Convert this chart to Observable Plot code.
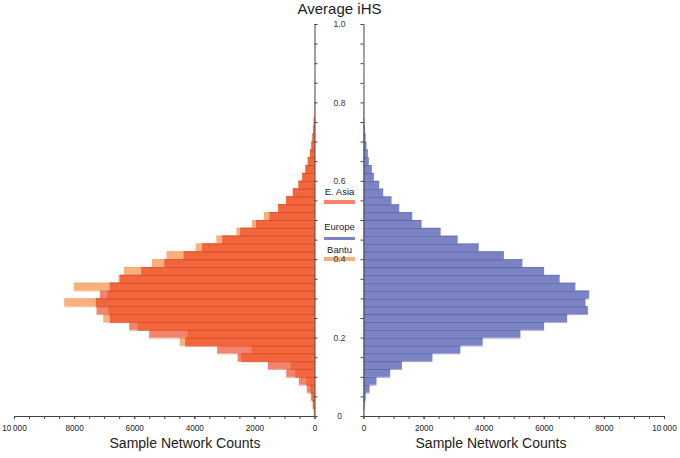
<!DOCTYPE html>
<html>
<head>
<meta charset="utf-8">
<script src="https://cdn.jsdelivr.net/npm/d3@7"></script>
<script src="https://cdn.jsdelivr.net/npm/@observablehq/plot@0.6"></script>
<style>
  body { margin: 0; background: #fff; font-family: "Liberation Sans", Arial, Helvetica, sans-serif; }
  #wrap { position: relative; width: 680px; height: 458px; background: #fff; overflow: hidden; }
  #chart { position: absolute; left: 0; top: 0; z-index: 1; }
  .lbl { position: absolute; color: #222; white-space: nowrap; transform: translateX(-50%); line-height: 1.15; }
  .sw { position: absolute; z-index: 0; }
</style>
</head>
<body>
<div id="wrap"><div id="chart"></div></div>
<script>
// ---- data ----
const binStart = [0, 0.02, 0.04, 0.06, 0.08, 0.10, 0.12, 0.14, 0.16, 0.18,
                  0.20, 0.22, 0.24, 0.26, 0.28, 0.30, 0.32, 0.34, 0.36, 0.38,
                  0.40, 0.42, 0.44, 0.46, 0.48, 0.50, 0.52, 0.54, 0.56, 0.58,
                  0.60, 0.62, 0.64, 0.66, 0.68, 0.70, 0.72, 0.74, 0.76, 0.78];
const europe   = [20, 45, 75, 200, 433, 889, 1278, 2295, 3225, 3967,
                  5222, 6011, 6778, 7467, 7389, 7511, 7050, 6528, 6011, 5289,
                  4672, 3833, 3133, 2567, 1933, 1622, 1189, 933, 656, 522,
                  344, 278, 178, 144, 100, 70, 50, 30, 15, 8];
const eastAsia = [20, 55, 120, 255, 520, 941, 1550, 2558, 3240, 4300,
                  5504, 6168, 6810, 7252, 7275, 7142, 6810, 6478, 5765, 4993,
                  4352, 3737, 3067, 2469, 1945, 1495, 1207, 941, 720, 531,
                  410, 299, 222, 150, 100, 70, 40, 25, 10, 5];
const bantu    = [20, 55, 77, 144, 277, 642, 797, 2436, 2098, 4485,
                  4224, 5890, 7031, 6850, 8328, 6899, 8006, 6520, 6340, 5410,
                  4927, 3953, 3266, 2596, 2082, 1683, 1207, 941, 720, 531,
                  410, 299, 222, 150, 100, 70, 40, 25, 10, 5];
const yTickLabels = [0, 0.2, 0.4, 0.6, 0.8, 1.0];
const yTicks = [0, 0.05, 0.1, 0.15, 0.2, 0.25, 0.3, 0.35, 0.4, 0.45, 0.5,
                0.55, 0.6, 0.65, 0.7, 0.75, 0.8, 0.85, 0.9, 0.95, 1.0];
const xTickLabels = [0, 2000, 4000, 6000, 8000, 10000];
const xTicks = [0, 500, 1000, 1500, 2000, 2500, 3000, 3500, 4000, 4500, 5000,
                5500, 6000, 6500, 7000, 7500, 8000, 8500, 9000, 9500, 10000];
const seriesNames = ["E. Asia", "Europe", "Bantu"];
const titleText = "Average iHS";
const xTitle = "Sample Network Counts";

// ---- styling ----
const C = {
  bantu: "#f9b07a", bantuEdge: "#ee9f68",
  easia: "#f3836a", easiaEdge: "#e56e54",
  over: "#f1663c", overEdge: "#dc4c24",
  eu: "#7b83c5", euEdge: "#5d65aa",
  axis: "#444"
};
const G = 815;     // half gap between the two panels (count units)
const TK = 100;    // y tick length (count units)
const L = v => -(G + v);
const R = v => G + v;
const fmtCount = v => String(v).length > 4 ? String(v).replace(/(\d)(?=(\d{3})+$)/g, "$1\u2009") : String(v);
const binWidth = 0.02;
const rows = binStart.map((b, i) => ({
  y1: b, y2: b + binWidth,
  eu: europe[i], ea: eastAsia[i], ba: bantu[i], ov: Math.min(eastAsia[i], bantu[i])
}));
const xMax = d3.max(xTicks);
const yMin = d3.min(yTicks), yMax = d3.max(yTicks);

function bars(x1, x2, fill, edge) {
  return [
    Plot.rect(rows, {x1, x2, y1: "y1", y2: "y2", fill}),
    Plot.ruleY(rows, {y: "y1", x1, x2, stroke: edge, strokeWidth: 0.6}),
    Plot.ruleY(rows, {y: "y2", x1, x2, stroke: edge, strokeWidth: 0.6})
  ];
}

const chart = Plot.plot({
  width: 680, height: 458,
  marginTop: 24, marginBottom: 42, marginLeft: 14, marginRight: 16,
  x: {domain: [L(xMax), R(xMax)]},
  y: {domain: [yMin, yMax], axis: null},
  style: {background: "transparent", fontFamily: "'Liberation Sans', Arial, Helvetica, sans-serif", overflow: "visible"},
  marks: [
    ...bars(-G, d => L(d.ba), C.bantu, C.bantuEdge),
    ...bars(-G, d => L(d.ea), C.easia, C.easiaEdge),
    ...bars(-G, d => L(d.ov), C.over, C.overEdge),
    ...bars(G, d => R(d.eu), C.eu, C.euEdge),
    // vertical axes
    Plot.ruleX([-G, G], {y1: yMin, y2: yMax, stroke: C.axis, strokeWidth: 1}),
    Plot.ruleY(yTicks, {y: d => d, x1: -G, x2: -G + TK, stroke: C.axis, strokeWidth: 1}),
    Plot.ruleY(yTicks, {y: d => d, x1: G - TK, x2: G, stroke: C.axis, strokeWidth: 1}),
    Plot.text(yTickLabels, {x: 0, y: d => d, text: d => d === 0 ? "0" : d.toFixed(1), fontSize: 8.5, fill: "#333"}),
    // horizontal axes
    Plot.ruleY([0], {x1: L(xMax), x2: -G, stroke: C.axis, strokeWidth: 1}),
    Plot.ruleY([0], {x1: G, x2: R(xMax), stroke: C.axis, strokeWidth: 1}),
    Plot.axisX([...xTicks.map(L), ...xTicks.map(R)], {anchor: "bottom", tickSize: 3, tickFormat: () => "", label: null, stroke: C.axis}),
    Plot.axisX([...xTickLabels.map(L), ...xTickLabels.map(R)], {
      anchor: "bottom", tickSize: 3, tickPadding: 6, label: null, stroke: C.axis, fill: "#222", fontSize: 8.2,
      tickFormat: d => fmtCount(Math.round(Math.abs(d) - G))
    })
  ]
});
document.getElementById("chart").appendChild(chart);

// ---- titles & legend ----
const wrap = document.getElementById("wrap");
function label(text, cx, top, size) {
  const el = document.createElement("div");
  el.className = "lbl";
  el.textContent = text;
  el.style.left = cx + "px";
  el.style.top = top + "px";
  el.style.fontSize = size + "px";
  el.style.zIndex = 2;
  wrap.appendChild(el);
  return el;
}
label(titleText, 339.5, 0, 15);
label(xTitle, 185, 435, 14);
label(xTitle, 491, 435, 14);

const legendColors = [C.easia, C.eu, C.bantu];
const legendTextTop = [186.5, 222, 244.5];
const legendSwatchTop = [200, 236.5, 257];
seriesNames.forEach((name, i) => {
  label(name, 339.5, legendTextTop[i], 9.5);
  const sw = document.createElement("div");
  sw.className = "sw";
  sw.style.left = "324px";
  sw.style.width = "31px";
  sw.style.top = legendSwatchTop[i] + "px";
  sw.style.height = "3.5px";
  sw.style.background = legendColors[i];
  wrap.appendChild(sw);
});
</script>
</body>
</html>
